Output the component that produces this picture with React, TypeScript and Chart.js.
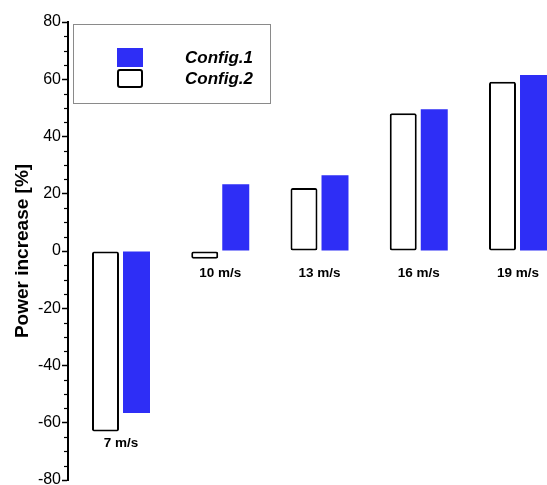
import React, { useEffect, useRef } from "react";
import { Chart, registerables } from "chart.js";

Chart.register(...registerables);

const categories = ["7 m/s", "10 m/s", "13 m/s", "16 m/s", "19 m/s"];
const config1 = [-56.6, 23.3, 26.5, 49.5, 61.5];
const config2 = [-63.1, -2.7, 22.0, 48.1, 59.1];
const yMin = -80;
const yMax = 80;
const yStep = 20;
const yMinorStep = 5;
const xMin = -0.534;
const xMax = 4.524;
const legendLabels = ["Config.1", "Config.2"];

const BLUE = "#2e2ef6";
const FONT = '"Liberation Sans", Arial, sans-serif';

const overlayPlugin = {
  id: "overlay",
  afterDraw(chart: any) {
    const { ctx, scales } = chart;
    const y = scales.y;
    const x = scales.x;
    ctx.save();
    // minor ticks
    ctx.strokeStyle = "#000";
    ctx.lineWidth = 1.2;
    const axisX = chart.chartArea.left;
    for (let v = yMin; v <= yMax; v += yMinorStep) {
      if (v % yStep === 0) continue;
      const py = Math.round(y.getPixelForValue(v)) + 0.5;
      ctx.beginPath();
      ctx.moveTo(axisX - 4, py);
      ctx.lineTo(axisX, py);
      ctx.stroke();
    }
    // category labels
    ctx.fillStyle = "#000";
    ctx.font = `bold 13.5px ${FONT}`;
    ctx.textAlign = "center";
    ctx.textBaseline = "middle";
    const zeroPx = y.getPixelForValue(0);
    categories.forEach((c, i) => {
      const lo = Math.min(0, config1[i], config2[i]);
      const ly = Math.max(zeroPx + 22, y.getPixelForValue(lo) + 12);
      ctx.fillText(c, x.getPixelForValue(i), ly);
    });
    // legend box
    const bx = 73.5, by = 24.5, bw = 197, bh = 79;
    ctx.strokeStyle = "#8a8a8a";
    ctx.lineWidth = 1;
    ctx.fillStyle = "#fff";
    ctx.fillRect(bx, by, bw, bh);
    ctx.strokeRect(bx, by, bw, bh);
    // swatch 1
    ctx.fillStyle = BLUE;
    ctx.fillRect(117, 48, 26, 19);
    // swatch 2
    ctx.strokeStyle = "#000";
    ctx.lineWidth = 2;
    ctx.beginPath();
    if ((ctx as any).roundRect) (ctx as any).roundRect(118, 70, 24, 17, 2);
    else ctx.rect(118, 70, 24, 17);
    ctx.stroke();
    ctx.fillStyle = "#000";
    ctx.font = `italic bold 17px ${FONT}`;
    ctx.textAlign = "right";
    ctx.textBaseline = "middle";
    ctx.fillText(legendLabels[0], 253, 58);
    ctx.fillText(legendLabels[1], 253, 79);
    ctx.restore();
  },
};

export default function App() {
  const ref = useRef<HTMLCanvasElement>(null);
  useEffect(() => {
    document.body.style.overflow = "hidden";
    const chart = new Chart(ref.current!, {
      type: "bar",
      data: {
        datasets: [
          {
            label: legendLabels[1],
            data: config2.map((v, i) => ({ x: i, y: v })),
            backgroundColor: "#ffffff",
            borderColor: "#000000",
            borderWidth: 2,
            borderSkipped: false,
            borderRadius: 2,
          },
          {
            label: legendLabels[0],
            data: config1.map((v, i) => ({ x: i, y: v })),
            backgroundColor: BLUE,
            borderWidth: 0,
          },
        ],
      },
      options: {
        animation: false,
        responsive: false,
        devicePixelRatio: 1,
        categoryPercentage: 0.625,
        barPercentage: 0.87,
        layout: { padding: { top: 22, bottom: 20, left: 0, right: 0 } },
        plugins: {
          legend: { display: false },
          tooltip: { enabled: false },
        },
        scales: {
          x: {
            type: "linear",
            display: false,
            min: xMin,
            max: xMax,
            offset: false,
          },
          y: {
            min: yMin,
            max: yMax,
            afterFit: (s: any) => {
              s.width = 68;
            },
            border: { display: true, color: "#000", width: 2 },
            grid: {
              drawOnChartArea: false,
              drawTicks: true,
              tickLength: 6,
              tickColor: "#000",
              tickWidth: 1.5,
            },
            ticks: {
              stepSize: yStep,
              color: "#000",
              padding: 1,
              font: { family: FONT, size: 16 },
            },
            title: {
              display: true,
              text: "Power increase [%]",
              color: "#000",
              font: { family: FONT, size: 19, weight: "bold" },
              padding: { top: 11, bottom: 0 },
            },
          },
        },
      },
      plugins: [overlayPlugin],
    });
    return () => chart.destroy();
  }, []);
  return (
    <div
      style={{
        position: "fixed",
        left: 0,
        top: 0,
        width: 547,
        height: 485,
        overflow: "hidden",
        background: "#fff",
      }}
    >
      <canvas ref={ref} width={570} height={500} style={{ display: "block" }} />
    </div>
  );
}
